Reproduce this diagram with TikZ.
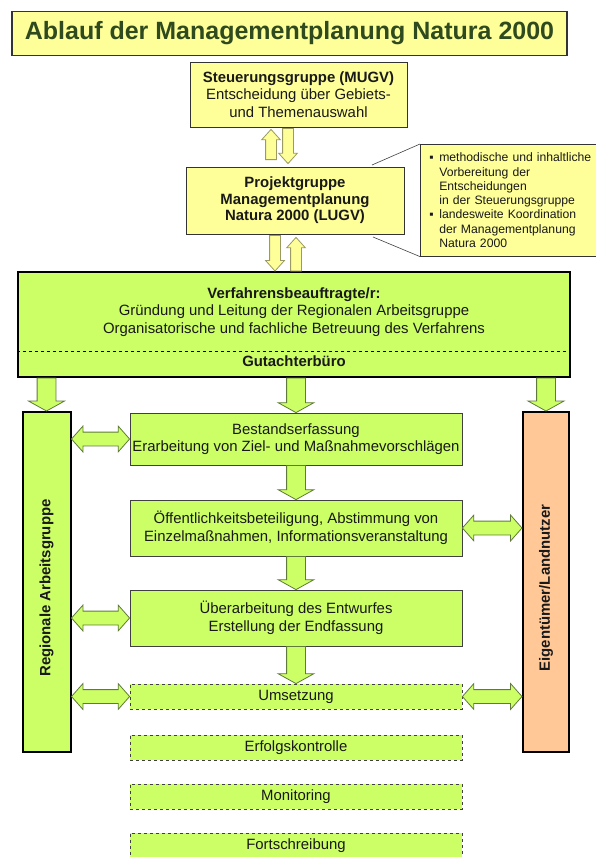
\documentclass[tikz,border=0pt]{standalone}
\usepackage{fontspec}
\setmainfont{Liberation Sans}
\usetikzlibrary{shapes.arrows,calc}

\definecolor{paleyellow}{HTML}{FFFF99}
\definecolor{limegreen}{HTML}{CCFF66}
\definecolor{peach}{HTML}{FFC896}
\definecolor{darkolive}{HTML}{2E4A1E}
\definecolor{yellowedge}{HTML}{9A9A62}
\definecolor{greenedge}{HTML}{5F7A3A}

\newcommand\blockarrow[3][]{%
  \path let \p1=#2, \p2=#3, \n1={atan2(\y2-\y1,\x2-\x1)}, \n2={veclen(\x2-\x1,\y2-\y1)}
    in node[#1, anchor=tail, rotate=\n1, minimum height=\n2] at (\p1) {};}
\newcommand\swaparrow[3][]{%
  \path let \p1=#2, \p2=#3, \n1={atan2(\y2-\y1,\x2-\x1)}, \n2={veclen(\x2-\x1,\y2-\y1)}
    in node[#1, rotate=\n1, minimum height=\n2] at ($(\p1)!0.5!(\p2)$) {};}

\begin{document}
\begin{tikzpicture}[x=1pt, y=-1pt,
  every node/.style={font=\fontsize{14.9}{17.5}\selectfont, text=black!90},
  headline/.style={draw=black!80, line width=1.2pt, fill=paleyellow, minimum width=555, minimum height=44,
    text=darkolive, font=\bfseries\fontsize{25}{28}\selectfont},
  panel/.style={draw=black!80, line width=0.8pt, fill=paleyellow, align=center, inner sep=0pt},
  note/.style={draw=black!80, line width=0.6pt, fill=paleyellow, align=left, inner xsep=9pt,
    text width=170pt, minimum height=112, font=\fontsize{12.2}{14.3}\selectfont},
  frame/.style={draw=black, line width=2pt, fill=limegreen, inner sep=0pt},
  task/.style={draw=black!75, line width=0.8pt, fill=limegreen, align=center, minimum width=332, inner sep=0pt},
  later/.style={dashed, minimum height=25},
  side/.style={draw=black, line width=2pt, minimum width=48, minimum height=340},
  pipe/.style={single arrow, draw=yellowedge, fill=paleyellow, line width=0.8pt, inner xsep=0pt, inner ysep=5pt,
    outer sep=0pt, single arrow head extend=4pt, single arrow tip angle=84},
  feed/.style={single arrow, draw=greenedge, fill=limegreen, line width=0.8pt, inner xsep=0pt, inner ysep=9pt,
    outer sep=0pt, single arrow head extend=8.5pt, single arrow tip angle=122},
  swap/.style={double arrow, draw=greenedge, fill=limegreen, line width=0.8pt, inner xsep=0pt, inner ysep=6.5pt,
    outer sep=0pt, double arrow head extend=6pt, double arrow tip angle=97},
]
\useasboundingbox (0,0) rectangle (595,857);

\node[headline] (title) at (289.5,33.5) {Ablauf der Managementplanung Natura 2000};

% Steuerung und Projektgruppe
\node[panel, minimum width=217, minimum height=65] (steuer) at (298.5,94.5)
  {\textbf{Steuerungsgruppe (MUGV)}\\Entscheidung über Gebiets-\\und Themenauswahl};
\node[panel, minimum width=218, minimum height=67, font=\bfseries\fontsize{14.9}{16.5}\selectfont] (projekt) at (295,200.5)
  {Projektgruppe\\Managementplanung\\Natura 2000 (LUGV)};
\node[note, anchor=north west] (note) at (420,144)
  {\makebox[10pt][l]{▪}methodische und inhaltliche\\
   \hspace*{10pt}Vorbereitung der\\
   \hspace*{10pt}Entscheidungen\\
   \hspace*{10pt}in der Steuerungsgruppe\\
   \makebox[10pt][l]{▪}landesweite Koordination\\
   \hspace*{10pt}der Managementplanung\\
   \hspace*{10pt}Natura 2000};
\coordinate (aim top) at (372,165);
\coordinate (aim bottom) at (373,237);
\draw[black!75, line width=0.6pt] (note.north west) -- (aim top) (note.south west) -- (aim bottom);

\blockarrow[pipe]{([xshift=-24pt,yshift=7pt]projekt.north)}{([xshift=-27.5pt,yshift=-2pt]steuer.south)}
\blockarrow[pipe]{([xshift=-10.5pt,yshift=-1pt]steuer.south)}{([xshift=-7pt,yshift=3pt]projekt.north)}

% Verfahrensbeauftragte/r
\node[frame, minimum width=552, minimum height=105] (verf) at (294,324.5) {};
\node[align=center] (verftext) at (294,312)
  {\textbf{Verfahrensbeauftragte/r:}\\Gründung und Leitung der Regionalen Arbeitsgruppe\\Organisatorische und fachliche Betreuung des Verfahrens};
\coordinate (split) at (294,351);
\draw[dashed, line width=1pt] (split -| verf.west) -- (split -| verf.east);
\node[font=\bfseries\fontsize{14.9}{17.5}\selectfont] (gutachter) at (294,361) {Gutachterbüro};

\blockarrow[pipe]{([xshift=-20pt,yshift=-1pt]projekt.south)}{([xshift=-19pt]verf.north)}
\blockarrow[pipe]{([xshift=2pt]verf.north)}{([xshift=1pt,yshift=-3pt]projekt.south)}

% Seitenspalten
\node[side, fill=limegreen] (rag) at (46.5,582) {};
\node[rotate=90, font=\bfseries\fontsize{14.9}{17.5}\selectfont] (ragtext) at ([yshift=-6pt]rag.center) {Regionale Arbeitsgruppe};
\node[side, fill=peach, minimum width=46] (eig) at (546,582) {};
\node[rotate=90, font=\bfseries\fontsize{14.9}{17.5}\selectfont] (eigtext) at ([yshift=-6pt]eig.center) {Eigentümer/Landnutzer};

% Arbeitsschritte
\node[task, minimum height=52] (bestand) at (296,439) {Bestandserfassung\\Erarbeitung von Ziel- und Maßnahmevorschlägen};
\node[task, minimum height=56] (oeff) at (296,528) {Öffentlichkeitsbeteiligung, Abstimmung von\\Einzelmaßnahmen, Informationsveranstaltung};
\node[task, minimum height=56] (ueber) at (296,618) {Überarbeitung des Entwurfes\\Erstellung der Endfassung};
\node[task, later] (umsetz) at (296,696.5) {Umsetzung};
\node[task, later] (erfolg) at (296,747.5) {Erfolgskontrolle};
\node[task, later] (monitor) at (296,796.5) {Monitoring};
\node[task, later] (fort) at (296,845.5) {Fortschreibung};

\blockarrow[feed]{(verf.south -| rag)}{(rag.north)}
\blockarrow[feed]{(verf.south -| bestand)}{(bestand.north)}
\blockarrow[feed]{(verf.south -| eig)}{(eig.north)}
\blockarrow[feed]{(bestand.south)}{(oeff.north)}
\blockarrow[feed]{(oeff.south)}{(ueber.north)}
\blockarrow[feed]{(ueber.south)}{(umsetz.north)}

\swaparrow[swap]{(rag.east |- bestand)}{(bestand.west)}
\swaparrow[swap]{(rag.east |- ueber)}{(ueber.west)}
\swaparrow[swap]{(rag.east |- umsetz)}{(umsetz.west)}
\swaparrow[swap]{(oeff.east)}{(eig.west |- oeff)}
\swaparrow[swap]{(umsetz.east)}{(eig.west |- umsetz)}

\end{tikzpicture}
\end{document}
